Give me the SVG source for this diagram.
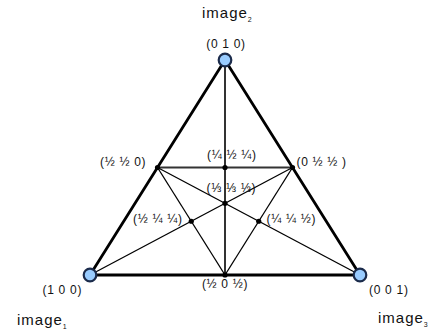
<svg xmlns="http://www.w3.org/2000/svg" width="430" height="330" viewBox="0 0 430 330">
<style>
text{font-family:"Liberation Sans",Arial,sans-serif;fill:#111}
.lab{font-size:12px;letter-spacing:0.7px}
.img{font-size:15px;letter-spacing:1px}
.sub{font-size:7px;letter-spacing:0}
.tri{fill:none;stroke:#000;stroke-width:2.8;stroke-linejoin:round}
.mid{stroke:#333;stroke-width:2}
.thin{stroke:#000;stroke-width:1.3}
.vtx{fill:#99ccff;stroke:#1b2b4b;stroke-width:2.2}
.dot{fill:#000}
</style>
<rect width="430" height="330" fill="#fff"/>
<g id="connectors">
<polygon class="tri" points="225,60 90,275 360,275"/>
<line class="mid" x1="157.5" y1="167.5" x2="292.5" y2="167.5"/>
<line class="mid" x1="225" y1="60" x2="225" y2="275"/>
<line class="thin" x1="90" y1="275" x2="292.5" y2="167.5"/>
<line class="thin" x1="360" y1="275" x2="157.5" y2="167.5"/>
<line class="thin" x1="157.5" y1="167.5" x2="225" y2="275"/>
<line class="thin" x1="292.5" y1="167.5" x2="225" y2="275"/>
</g>
<g id="v010"><circle class="vtx" cx="225" cy="60" r="6.3"/><text class="lab" x="226" y="47.5" text-anchor="middle">(0 1 0)</text></g>
<g id="v100"><circle class="vtx" cx="90" cy="275" r="6.3"/><text class="lab" x="42.5" y="294">(1 0 0)</text></g>
<g id="v001"><circle class="vtx" cx="360" cy="275" r="6.3"/><text class="lab" x="369" y="294">(0 0 1)</text></g>
<g id="p110"><circle class="dot" cx="157.5" cy="167.5" r="2.6"/><text class="lab" x="100" y="166">(½ ½ 0)</text></g>
<g id="p011"><circle class="dot" cx="292.5" cy="167.5" r="2.6"/><text class="lab" x="296.5" y="166">(0 ½ ½ )</text></g>
<g id="p121"><circle class="dot" cx="225" cy="167.5" r="2.6"/><text class="lab" x="207" y="159">(¼ ½ ¼)</text></g>
<g id="p111"><circle class="dot" cx="225" cy="203.3" r="2.6"/><text class="lab" x="206.5" y="192">(⅓ ⅓ ⅓)</text></g>
<g id="p211"><circle class="dot" cx="191.25" cy="221.25" r="2.6"/><text class="lab" x="133" y="223">(½ ¼ ¼)</text></g>
<g id="p112"><circle class="dot" cx="258.75" cy="221.25" r="2.6"/><text class="lab" x="266.5" y="223">(¼ ¼ ½)</text></g>
<g id="p101"><circle class="dot" cx="225" cy="275" r="2.6"/><text class="lab" x="225" y="287.5" text-anchor="middle">(½ 0 ½)</text></g>
<g id="image2"><text class="img" x="202" y="18">image<tspan class="sub" dy="4">2</tspan></text></g>
<g id="image1"><text class="img" x="17" y="325">image<tspan class="sub" dy="4">1</tspan></text></g>
<g id="image3"><text class="img" x="378" y="323">image<tspan class="sub" dy="4">3</tspan></text></g>
</svg>
